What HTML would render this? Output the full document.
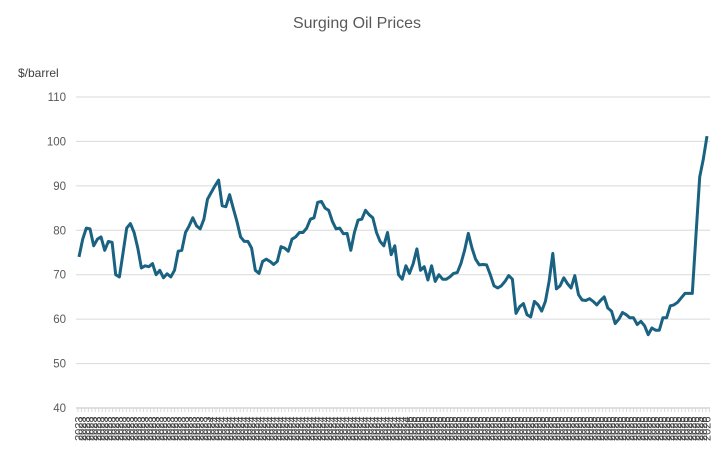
<!DOCTYPE html>
<html><head><meta charset="utf-8"><style>
body{margin:0;background:#fff;width:714px;height:446px;overflow:hidden;font-family:"Liberation Sans",sans-serif}
</style></head><body>
<svg id="s" width="714" height="446" xmlns="http://www.w3.org/2000/svg" font-family="Liberation Sans, sans-serif">
<text x="357" y="28" text-anchor="middle" font-size="16" fill="#595959">Surging Oil Prices</text>
<text x="18" y="77" font-size="12" fill="#404040">$/barrel</text>
<g id="grid"></g>
<polyline id="ln" fill="none" stroke="#1a6281" stroke-width="3" stroke-linejoin="round" points=""/>
<g id="xl" font-size="11" fill="#404040"></g>
</svg>
<script>
var g=document.getElementById('grid'),ns='http://www.w3.org/2000/svg';
function Y(v){return 408-(v-40)*4.443;}
for(var v=40;v<=110;v+=10){var y=Y(v);
var l=document.createElementNS(ns,'line');l.setAttribute('x1',76);l.setAttribute('x2',710);l.setAttribute('y1',y);l.setAttribute('y2',y);l.setAttribute('stroke',v==40?'#bfbfbf':'#d9d9d9');l.setAttribute('stroke-width',1);g.appendChild(l);
var t=document.createElementNS(ns,'text');t.setAttribute('x',66);t.setAttribute('y',y+4);t.setAttribute('text-anchor','end');t.setAttribute('font-size',11.5);t.setAttribute('fill','#595959');t.textContent=v;g.appendChild(t);}
var d=[74,78,80.5,80.3,76.5,78,78.5,75.5,77.5,77.3,70,69.5,75,80.5,81.5,79.5,76,71.5,72,71.8,72.5,70,71,69.3,70.2,69.5,71,75.3,75.5,79.5,81,82.8,81,80.3,82.5,87,88.5,90,91.3,85.5,85.3,88,85,82,78.5,77.5,77.5,76,71,70.3,73,73.5,73,72.3,73,76.3,76,75.3,78,78.5,79.5,79.5,80.5,82.5,82.8,86.3,86.5,85,84.5,82,80.3,80.5,79.2,79.3,75.5,79.5,82.3,82.5,84.5,83.5,82.8,79.5,77.5,76.5,79.5,74.5,76.5,70,69,72,70.3,72.5,75.8,71,71.8,68.8,72,68.5,70,69,69,69.5,70.3,70.5,72.5,75.5,79.3,76,73.5,72.2,72.3,72.2,70,67.5,67,67.5,68.5,69.8,69,61.3,62.8,63.5,61,60.5,64,63.2,61.8,64,68.5,74.8,66.8,67.5,69.3,68,67,69.8,65.5,64.3,64.2,64.6,64,63.2,64.2,65,62.5,61.8,59,60,61.5,61,60.3,60.3,58.8,59.5,58.5,56.5,58,57.5,57.5,60.3,60.3,63,63.2,63.8,64.8,65.8,65.8,65.8,79,92,96,101.2];
var n=d.length,p=[];for(var i=0;i<n;i++){p.push((79+i*(707-79)/(n-1)).toFixed(1)+','+Y(d[i]).toFixed(1));}
document.getElementById('ln').setAttribute('points',p.join(' '));
var xl=document.getElementById('xl');
for(var x=78;x<=710;x+=3.45){var tk=document.createElementNS(ns,'line');tk.setAttribute('x1',x);tk.setAttribute('x2',x);tk.setAttribute('y1',408);tk.setAttribute('y2',412);tk.setAttribute('stroke','#d9d9d9');xl.appendChild(tk);}
for(var k=0;k<n;k++){var x=79+k*(707-79)/(n-1);var yr=k<36?'2023':(k<90?'2024':(k<170?'2025':'2026'));
var t=document.createElementNS(ns,'text');t.setAttribute('transform','translate('+(x+3.5)+',441) rotate(-90)');t.textContent=yr;xl.appendChild(t);}
</script>
</body></html>
